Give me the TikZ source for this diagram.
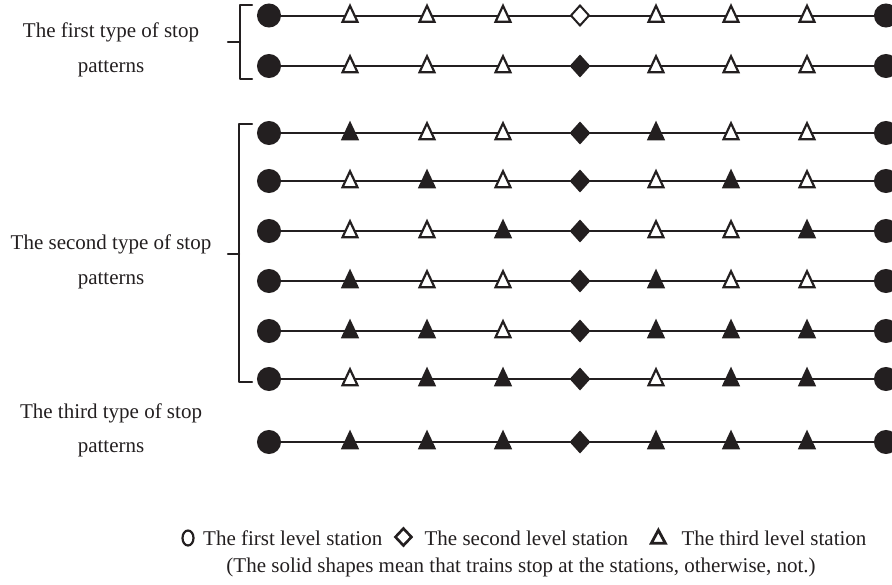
\documentclass[tikz,border=0pt]{standalone}
\usepackage{fontspec}
\setmainfont{Liberation Serif}
\usetikzlibrary{shapes.geometric,backgrounds,calc}
\definecolor{ink}{RGB}{35,31,32}
\begin{document}
\begin{tikzpicture}[x=1pt,y=-1pt,
  base/.style={inner sep=0pt,outer sep=0pt,line width=2pt,draw=ink},
  term/.style={base,circle,fill=ink,minimum size=22pt},
  tri/.style={base,isosceles triangle,isosceles triangle stretches,shape border rotate=90,
              minimum width=15pt,minimum height=16pt,yshift=-1.5pt,line join=miter,line width=2.2pt},
  otri/.style={tri,fill=white},
  ftri/.style={tri,fill=ink},
  dia/.style={base,diamond,minimum width=18pt,minimum height=20pt},
  odia/.style={dia,fill=white},
  fdia/.style={dia,fill=ink},
  track/.style={line width=2pt,ink},
  brack/.style={line width=2.4pt,ink,line join=round,line cap=round},
  lbl/.style={font=\fontsize{21}{25}\selectfont,text=ink,inner sep=0pt,anchor=base}
]
\useasboundingbox (0,0) rectangle (892,584);

% nine stop patterns: row / y / the seven intermediate stations (o = open, f = filled)
\foreach \r/\y/\a/\b/\c/\d/\e/\f/\g in {
  1/15.5/o/o/o/o/o/o/o,
  2/66/o/o/o/f/o/o/o,
  3/133/f/o/o/f/f/o/o,
  4/181/o/f/o/f/o/f/o,
  5/231/o/o/f/f/o/o/f,
  6/281/f/o/o/f/f/o/o,
  7/331/f/f/o/f/f/f/f,
  8/379/o/f/f/f/o/f/f,
  9/442/f/f/f/f/f/f/f}{
  \node[term] (r\r c0) at (269,\y) {};
  \node[\a tri] (r\r c1) at (350,\y) {};
  \node[\b tri] (r\r c2) at (427,\y) {};
  \node[\c tri] (r\r c3) at (503,\y) {};
  \node[\d dia] (r\r c4) at (580,\y) {};
  \node[\e tri] (r\r c5) at (656,\y) {};
  \node[\f tri] (r\r c6) at (731,\y) {};
  \node[\g tri] (r\r c7) at (807,\y) {};
  \node[term] (r\r c8) at (886,\y) {};
  \begin{pgfonlayer}{background}
    \draw[track] (r\r c0.center) -- (r\r c8.center);
  \end{pgfonlayer}
}

% brackets grouping the patterns
\draw[brack] (252,5) -- (240,5) -- (240,79) -- (252,79);
\draw[brack] (240,42) -- (228,42);
\draw[brack] (252,124) -- (239,124) -- (239,382) -- (252,382);
\draw[brack] (239,254) -- (228,254);

% group labels
\node[lbl] (t1a) at (111,37) {The first type of stop};
\node[lbl] (t1b) at (111,72) {patterns};
\node[lbl] (t2a) at (111,249) {The second type of stop};
\node[lbl] (t2b) at (111,284) {patterns};
\node[lbl] (t3a) at (111,418) {The third type of stop};
\node[lbl] (t3b) at (111,452) {patterns};

% legend
\node[base,ellipse,line width=2.2pt,minimum width=11pt,minimum height=15pt] (kO) at (188,538) {};
\node[lbl,anchor=base west] (k1) at ($(kO.center)+(15,7)$) {The first level station};
\node[base,diamond,line width=2.6pt,minimum width=16pt,minimum height=17pt,anchor=center]
  (kD) at ($(k1.base east)+(21,-8)$) {};
\node[lbl,anchor=base west] (k2) at ($(kD.center)+(21,8)$) {The second level station};
\node[base,isosceles triangle,isosceles triangle stretches,shape border rotate=90,
      line width=2.8pt,line join=miter,minimum width=14pt,minimum height=13pt,anchor=center]
  (kT) at ($(k2.base east)+(30,-6)$) {};
\node[lbl,anchor=base west] (k3) at ($(kT.center)+(23,6)$) {The third level station};
\node[lbl] (k4) at (521,572) {(The solid shapes mean that trains stop at the stations, otherwise, not.)};
\end{tikzpicture}
\end{document}
